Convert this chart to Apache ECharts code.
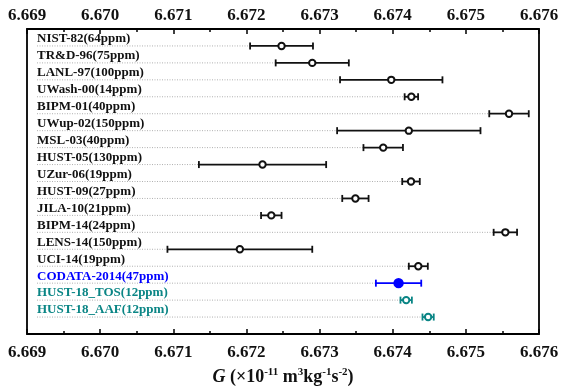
<!DOCTYPE html>
<html>
<head>
<meta charset="utf-8">
<script src="https://cdn.jsdelivr.net/npm/echarts@6/dist/echarts.min.js"></script>
<style>
  html, body { margin: 0; padding: 0; background: #fff; }
  #chart { width: 561px; height: 386px; }
</style>
</head>
<body>
<div id="chart"></div>
<script>
// G measurements, top to bottom
const labels = [
  "NIST-82(64ppm)", "TR&D-96(75ppm)", "LANL-97(100ppm)", "UWash-00(14ppm)",
  "BIPM-01(40ppm)", "UWup-02(150ppm)", "MSL-03(40ppm)", "HUST-05(130ppm)",
  "UZur-06(19ppm)", "HUST-09(27ppm)", "JILA-10(21ppm)", "BIPM-14(24ppm)",
  "LENS-14(150ppm)", "UCI-14(19ppm)", "CODATA-2014(47ppm)",
  "HUST-18_TOS(12ppm)", "HUST-18_AAF(12ppm)"
];
const gValues = [
  6.67248, 6.6729, 6.67398, 6.674255, 6.67559, 6.67422, 6.67387, 6.67222,
  6.67425, 6.67349, 6.67234, 6.67554, 6.67191, 6.67435, 6.67408,
  6.674184, 6.674484
];
const gErrors = [
  0.00043, 0.0005, 0.0007, 0.000092, 0.00027, 0.00098, 0.00027, 0.00087,
  0.00012, 0.00018, 0.00014, 0.00016, 0.00099, 0.00013, 0.00031,
  0.000078, 0.000077
];
const groups = [
  "prev", "prev", "prev", "prev", "prev", "prev", "prev", "prev",
  "prev", "prev", "prev", "prev", "prev", "prev", "codata", "hust", "hust"
];
const xTicks = [6.669, 6.670, 6.671, 6.672, 6.673, 6.674, 6.675, 6.676];

const groupColor = { prev: "#111", codata: "#0000ff", hust: "#0a8585" };
const serif = "'Liberation Serif', 'DejaVu Serif', serif";

const chart = echarts.init(document.getElementById("chart"), null, { renderer: "canvas" });

function xAxisBase(position) {
  return {
    type: "value",
    position: position,
    min: xTicks[0],
    max: xTicks[xTicks.length - 1],
    interval: 0.001,
    axisLine: { show: false, onZero: false },
    splitLine: { show: false },
    axisTick: { show: true, inside: true, length: 5, lineStyle: { color: "#000", width: 1.5 } },
    minorTick: { show: true, splitNumber: 2, length: 3, lineStyle: { color: "#000", width: 1.5 } },
    axisLabel: {
      show: true,
      color: "#111",
      fontFamily: serif,
      fontWeight: "bold",
      fontSize: 17,
      margin: position === "top" ? 5 : 10,
      showMinLabel: true,
      showMaxLabel: true,
      formatter: (v) => v.toFixed(3)
    }
  };
}

const bottomAxis = xAxisBase("bottom");
bottomAxis.name = "{i|G} (×10{sup|-11} m{sup|3}kg{sup|-1}s{sup|-2})";
bottomAxis.nameLocation = "middle";
bottomAxis.nameGap = 33;
bottomAxis.nameTextStyle = {
  color: "#111",
  fontFamily: serif,
  fontWeight: "bold",
  fontSize: 18,
  rich: {
    i: { fontFamily: serif, fontWeight: "bold", fontStyle: "italic", fontSize: 18, color: "#111" },
    sup: { fontFamily: serif, fontWeight: "bold", fontSize: 11, color: "#111", verticalAlign: "top", lineHeight: 20 }
  }
};

chart.setOption({
  animation: false,
  backgroundColor: "#fff",
  grid: {
    left: 27,
    right: 22,
    top: 29,
    bottom: 52,
    containLabel: false,
    outerBoundsMode: "none",
    show: true,
    borderColor: "#000",
    borderWidth: 1.8,
    backgroundColor: "transparent"
  },
  xAxis: [bottomAxis, xAxisBase("top")],
  yAxis: {
    type: "value",
    inverse: true,
    min: -1,
    max: labels.length,
    axisLine: { show: false, onZero: false },
    axisTick: { show: false },
    axisLabel: { show: false },
    splitLine: { show: false }
  },
  series: [
    {
      type: "custom",
      xAxisIndex: 0,
      data: gValues.map((v, i) => [v, i, gErrors[i]]),
      renderItem: function (params, api) {
        const i = params.dataIndex;
        const v = api.value(0);
        const row = api.value(1);
        const e = api.value(2);
        const color = groupColor[groups[i]];
        const center = api.coord([v, row]);
        const lo = api.coord([v - e, row]);
        const hi = api.coord([v + e, row]);
        const left = params.coordSys.x;
        const cap = 3.5;
        const filled = groups[i] === "codata";
        return {
          type: "group",
          children: [
            {
              type: "line",
              shape: { x1: left + 10, y1: center[1], x2: lo[0], y2: center[1] },
              style: { stroke: "#b0b0b0", lineWidth: 1, lineDash: [1, 1.5] }
            },
            {
              type: "text",
              style: {
                text: labels[i],
                x: left + 10,
                y: center[1] - 7,
                fill: color,
                font: "bold 13px " + serif,
                verticalAlign: "middle",
                align: "left"
              }
            },
            {
              type: "line",
              shape: { x1: lo[0], y1: center[1], x2: hi[0], y2: center[1] },
              style: { stroke: color, lineWidth: 1.8 }
            },
            {
              type: "line",
              shape: { x1: lo[0], y1: center[1] - cap, x2: lo[0], y2: center[1] + cap },
              style: { stroke: color, lineWidth: 1.8 }
            },
            {
              type: "line",
              shape: { x1: hi[0], y1: center[1] - cap, x2: hi[0], y2: center[1] + cap },
              style: { stroke: color, lineWidth: 1.8 }
            },
            {
              type: "circle",
              shape: { cx: center[0], cy: center[1], r: filled ? 4.2 : 3.2 },
              style: { fill: filled ? color : "#fff", stroke: color, lineWidth: 2 }
            }
          ]
        };
      }
    }
  ]
});
</script>
</body>
</html>
